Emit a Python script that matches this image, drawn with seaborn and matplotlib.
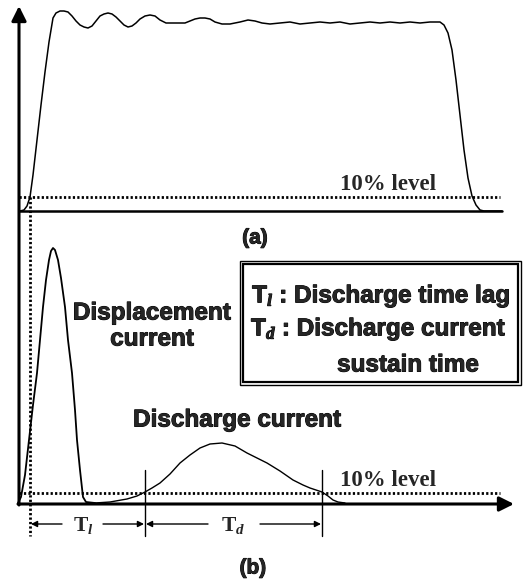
import numpy as np
import pandas as pd
import matplotlib
matplotlib.use("Agg")
import matplotlib.pyplot as plt
import matplotlib.patheffects as pe
from matplotlib.patches import Rectangle
import seaborn as sns

# Waveforms (x = time, y = screen level, axis points down)
# (a) applied voltage pulse
volt_t = [20, 24, 27, 30, 33, 37, 41, 45, 49, 53, 56, 60, 64, 68, 72, 76, 80, 84, 88, 92,
          96, 100, 104, 108, 112, 116, 120, 124, 128, 132, 136, 140, 145, 150, 155, 160, 166,
          175, 185, 190, 195, 200, 205, 210, 215, 222, 230, 240, 248, 255, 262, 270, 280,
          290, 300, 310, 320, 330, 340, 350, 360, 370, 380, 390, 400, 410, 420, 430, 440,
          444, 448, 452, 456, 460, 464, 468, 472, 476, 480, 484, 490, 502]
volt_v = [211, 210, 206, 197, 175, 140, 105, 72, 42, 18, 13, 11, 11, 12, 16, 21, 25, 27, 28, 26,
          21, 16, 14, 13, 14, 17, 21, 25, 27, 26, 23, 19, 16, 15, 16, 20, 23,
          23, 23, 21, 19, 18, 18, 19, 22, 24, 24, 22, 20, 21, 23, 24, 23,
          22, 24, 23, 22, 23, 22, 24, 23, 22, 23, 22, 23, 22, 23, 22, 22,
          25, 33, 50, 80, 115, 150, 178, 196, 205, 210, 211, 211, 211]

# (b) displacement current pulse
disp_t = [18, 21, 25, 29, 33, 37, 40, 43, 46, 49, 51, 53, 55, 58, 61, 65, 68, 72, 75, 77,
          80, 83, 86, 95]
disp_v = [503, 497, 475, 440, 405, 373, 340, 307, 280, 260, 251, 248, 250, 260, 278, 307,
          340, 373, 410, 440, 470, 497, 502, 503]

# (b) discharge current pulse
dis_t = [95, 110, 127, 137, 145, 152, 160, 170, 180, 190, 200, 210, 222, 235, 247, 257, 267,
         280, 293, 303, 310, 316, 322, 328, 333, 338, 345]
dis_v = [503, 502, 499, 496, 492, 488, 483, 474, 463, 455, 448, 444, 443, 446, 453, 458, 463,
         471, 480, 485, 488, 490, 492, 496, 500, 502, 503]

# levels and markers
base_a, level_a = 211, 197
base_b, level_b = 504, 493
t_start, t_on, t_off = 30, 145, 322

sns.set_theme(style="white")
plt.rcParams['font.family'] = ['Liberation Sans', 'DejaVu Sans']
plt.rcParams['mathtext.fontset'] = 'custom'
plt.rcParams['mathtext.rm'] = 'Liberation Serif'
plt.rcParams['mathtext.bf'] = 'Liberation Serif:bold'
plt.rcParams['mathtext.it'] = 'Liberation Serif:italic:bold'

fig = plt.figure(figsize=(5.26, 5.82), dpi=100)
ax = fig.add_axes([0, 0, 1, 1])
ax.set_xlim(0, 526)
ax.set_ylim(582, 0)
ax.axis('off')

k = dict(color='black', estimator=None, legend=False, ax=ax)
sns.lineplot(data=pd.DataFrame({'t': volt_t, 'v': volt_v}), x='t', y='v', lw=1.1, sort=False, **k)
sns.lineplot(data=pd.DataFrame({'t': disp_t, 'v': disp_v}), x='t', y='v', lw=1.3, sort=False, **k)
sns.lineplot(data=pd.DataFrame({'t': dis_t, 'v': dis_v}), x='t', y='v', lw=1.0, sort=False, **k)
ax.set_xlabel('')
ax.set_ylabel('')

# axes
ax.annotate('', xy=(19, 6), xytext=(19, base_b + 1),
            arrowprops=dict(arrowstyle='-|>', lw=2.2, color='black', mutation_scale=22,
                            shrinkA=0, shrinkB=0))
ax.annotate('', xy=(514, base_b), xytext=(18, base_b),
            arrowprops=dict(arrowstyle='-|>', lw=2.2, color='black', mutation_scale=22,
                            shrinkA=0, shrinkB=0))
ax.plot([19, 502], [base_a, base_a], color='black', lw=1.8)

# 10% levels
dot = dict(color='black', lw=2.0, linestyle=(0, (0.8, 0.8)))
ax.plot([19, 500], [level_a, level_a], **dot)
ax.plot([19, 500], [level_b, level_b], **dot)
ax.plot([t_start, t_start], [level_a, 536], **dot)
ax.text(388, 184, '10% level', family='Liberation Serif', weight='bold', fontsize=16.5,
        ha='center', va='center')
ax.text(388, 481, '10% level', family='Liberation Serif', weight='bold', fontsize=16.5,
        ha='center', va='center')

# markers for Tl / Td
for xv in (t_on, t_off):
    ax.plot([xv, xv], [470, 536], color='black', lw=1.0)
arr = dict(arrowstyle='-|>', lw=1.0, color='black', mutation_scale=9, shrinkA=0, shrinkB=0)
y_dim = 524
ax.annotate('', xy=(t_start + 1, y_dim), xytext=(62, y_dim), arrowprops=arr)
ax.annotate('', xy=(t_on - 1, y_dim), xytext=(103, y_dim), arrowprops=arr)
ax.annotate('', xy=(t_on + 1, y_dim), xytext=(208, y_dim), arrowprops=arr)
ax.annotate('', xy=(t_off - 1, y_dim), xytext=(260, y_dim), arrowprops=arr)
ax.text(83, 526, r'$\mathbf{T}_{\mathit{l}}$', fontsize=15.5, ha='center', va='center')
ax.text(233, 526, r'$\mathbf{T}_{\mathit{d}}$', fontsize=15.5, ha='center', va='center')

# labels (heavy bold like the scanned original)
heavy = [pe.withStroke(linewidth=0.7, foreground='black')]
lab = dict(weight='bold', ha='center', va='center', path_effects=heavy)
ax.text(255, 238, '(a)', fontsize=15, **lab)
ax.text(253, 568, '(b)', fontsize=15, **lab)
ax.text(152, 313, 'Displacement', fontsize=17.5, **lab)
ax.text(152, 339, 'current', fontsize=17.5, **lab)
ax.text(237, 420, 'Discharge current', fontsize=17.5, **lab)

# legend box
ax.add_patch(Rectangle((240, 261), 281, 124, fill=False, lw=1.0, color='black'))
ax.add_patch(Rectangle((243, 264), 275, 118, fill=False, lw=1.6, color='black'))
ax.text(381, 296, r'T$_{\mathit{l}}$ : Discharge time lag', fontsize=17.5, **lab)
ax.text(251, 329, r'T$_{\mathit{d}}$ : Discharge current', fontsize=17.5,
        weight='bold', ha='left', va='center', path_effects=heavy)
ax.text(408, 365, 'sustain time', fontsize=17.5, **lab)

fig.savefig('out.png', dpi=100)
